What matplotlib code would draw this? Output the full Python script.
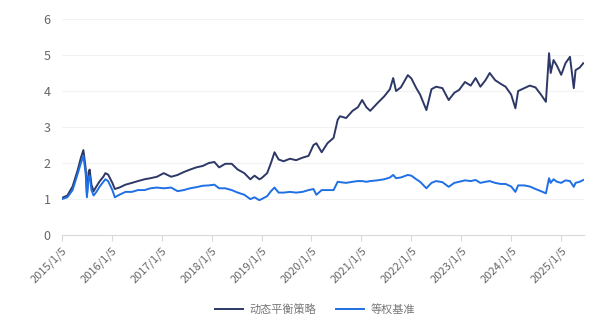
import pandas as pd
import matplotlib
matplotlib.use("Agg")
import matplotlib.pyplot as plt

plt.rcParams['font.family'] = ['Noto Sans CJK SC', 'DejaVu Sans']

dates = ['2015-01-05', '2015-02-15', '2015-03-25', '2015-05-01', '2015-05-25', '2015-06-12',
         '2015-06-29', '2015-07-08', '2015-07-20', '2015-07-28', '2015-08-10', '2015-08-26',
         '2015-09-15', '2015-10-10', '2015-11-05', '2015-11-20', '2015-12-10', '2016-01-10',
         '2016-01-28', '2016-03-01', '2016-04-15', '2016-06-01', '2016-07-15', '2016-09-01',
         '2016-10-15', '2016-12-01', '2017-01-20', '2017-03-15', '2017-05-01', '2017-06-15',
         '2017-08-01', '2017-09-15', '2017-11-01', '2017-12-15', '2018-01-25', '2018-03-01',
         '2018-04-15', '2018-06-01', '2018-07-15', '2018-09-01', '2018-10-15', '2018-11-15',
         '2018-12-20', '2019-01-05', '2019-02-15', '2019-03-15', '2019-04-10', '2019-05-10',
         '2019-06-15', '2019-08-01', '2019-09-15', '2019-11-01', '2019-12-15', '2020-01-20',
         '2020-02-10', '2020-03-20', '2020-05-01', '2020-06-15', '2020-07-15', '2020-08-01',
         '2020-09-15', '2020-11-01', '2020-12-10', '2021-01-10', '2021-02-10', '2021-03-10',
         '2021-05-01', '2021-06-20', '2021-08-01', '2021-08-25', '2021-09-15', '2021-10-20',
         '2021-12-10', '2022-01-05', '2022-02-10', '2022-03-10', '2022-04-25', '2022-06-01',
         '2022-07-05', '2022-08-20', '2022-10-05', '2022-11-15', '2022-12-20', '2023-02-01',
         '2023-03-15', '2023-04-20', '2023-05-25', '2023-07-01', '2023-08-01', '2023-09-10',
         '2023-10-20', '2023-11-25', '2024-01-05', '2024-02-05', '2024-02-25', '2024-04-10',
         '2024-05-20', '2024-07-01', '2024-08-10', '2024-09-15', '2024-10-08', '2024-10-20',
         '2024-11-10', '2024-12-05', '2025-01-05', '2025-02-05', '2025-03-10', '2025-04-07',
         '2025-04-20', '2025-05-20', '2025-06-15']

strategy = [1.03, 1.10, 1.35, 1.80, 2.15, 2.36, 1.85, 1.12, 1.75, 1.82, 1.40, 1.22,
            1.35, 1.50, 1.62, 1.72, 1.68, 1.45, 1.28, 1.32, 1.40, 1.45, 1.50, 1.55,
            1.58, 1.62, 1.72, 1.62, 1.67, 1.75, 1.82, 1.88, 1.92, 2.00, 2.03, 1.88,
            1.98, 1.98, 1.82, 1.72, 1.55, 1.65, 1.55, 1.58, 1.72, 2.00, 2.30, 2.10,
            2.05, 2.12, 2.08, 2.15, 2.20, 2.50, 2.55, 2.30, 2.55, 2.70, 3.20, 3.30,
            3.25, 3.45, 3.55, 3.75, 3.55, 3.45, 3.66, 3.85, 4.05, 4.36, 4.00, 4.10,
            4.44, 4.35, 4.08, 3.90, 3.47, 4.05, 4.12, 4.08, 3.75, 3.95, 4.03, 4.25,
            4.15, 4.36, 4.12, 4.30, 4.50, 4.30, 4.20, 4.12, 3.90, 3.52, 4.00, 4.08,
            4.15, 4.10, 3.90, 3.70, 5.05, 4.50, 4.86, 4.70, 4.45, 4.77, 4.95, 4.08,
            4.58, 4.65, 4.77]

benchmark = [1.00, 1.05, 1.25, 1.70, 2.00, 2.20, 1.70, 1.05, 1.60, 1.65, 1.25, 1.10,
             1.20, 1.35, 1.48, 1.55, 1.50, 1.25, 1.05, 1.12, 1.20, 1.20, 1.25, 1.25,
             1.30, 1.32, 1.30, 1.32, 1.22, 1.25, 1.30, 1.33, 1.37, 1.38, 1.40, 1.30,
             1.30, 1.25, 1.18, 1.12, 1.00, 1.05, 0.97, 1.00, 1.08, 1.22, 1.32, 1.18,
             1.18, 1.20, 1.18, 1.20, 1.25, 1.28, 1.12, 1.25, 1.25, 1.25, 1.48, 1.47,
             1.45, 1.48, 1.50, 1.50, 1.48, 1.50, 1.52, 1.55, 1.60, 1.67, 1.58, 1.60,
             1.67, 1.65, 1.55, 1.48, 1.30, 1.45, 1.50, 1.47, 1.34, 1.45, 1.48, 1.52,
             1.50, 1.53, 1.45, 1.48, 1.50, 1.45, 1.42, 1.42, 1.35, 1.20, 1.38, 1.38,
             1.35, 1.28, 1.22, 1.16, 1.58, 1.45, 1.55, 1.48, 1.45, 1.52, 1.50, 1.34,
             1.45, 1.48, 1.53]

tick_dates = ['2015-01-05', '2016-01-05', '2017-01-05', '2018-01-05', '2019-01-05', '2020-01-05',
              '2021-01-05', '2022-01-05', '2023-01-05', '2024-01-05', '2025-01-05']
tick_labels = ['2015/1/5', '2016/1/5', '2017/1/5', '2018/1/5', '2019/1/5', '2020/1/5',
               '2021/1/5', '2022/1/5', '2023/1/5', '2024/1/5', '2025/1/5']

df = pd.DataFrame({'date': pd.to_datetime(dates), 'strategy': strategy, 'benchmark': benchmark})

fig = plt.figure(figsize=(5.94, 3.27), dpi=100)
ax = fig.add_axes([0.104, 0.281, 0.879, 0.661])

ax.plot(df['date'], df['strategy'], color='#2D3866', lw=1.4, label='动态平衡策略')
ax.plot(df['date'], df['benchmark'], color='#1F6FE5', lw=1.4, label='等权基准')

ax.set_ylim(0, 6)
ax.set_yticks(range(0, 7))
ax.set_xlim(pd.Timestamp('2015-01-05'), pd.Timestamp('2025-06-20'))
ax.set_xticks(pd.to_datetime(tick_dates))
ax.set_xticklabels(tick_labels, rotation=45, ha='right', rotation_mode='anchor')

# faint horizontal grid, only the bottom spine kept
ax.grid(axis='y', color='#f2f2f2', lw=0.8)
ax.set_axisbelow(True)
for s in ['top', 'right', 'left']:
    ax.spines[s].set_visible(False)
ax.spines['bottom'].set_color('#d9d9d9')
ax.tick_params(axis='y', length=0, labelcolor='#666666', labelsize=9, pad=8)
ax.tick_params(axis='x', length=4, color='#d9d9d9', labelcolor='#666666', labelsize=8)

fig.legend(loc='center', bbox_to_anchor=(0.53, 0.055), ncol=2, frameon=False,
           fontsize=8, labelcolor='#777777', handlelength=2.5, handletextpad=0.6,
           columnspacing=1.8)

fig.savefig('out.png', dpi=100)
